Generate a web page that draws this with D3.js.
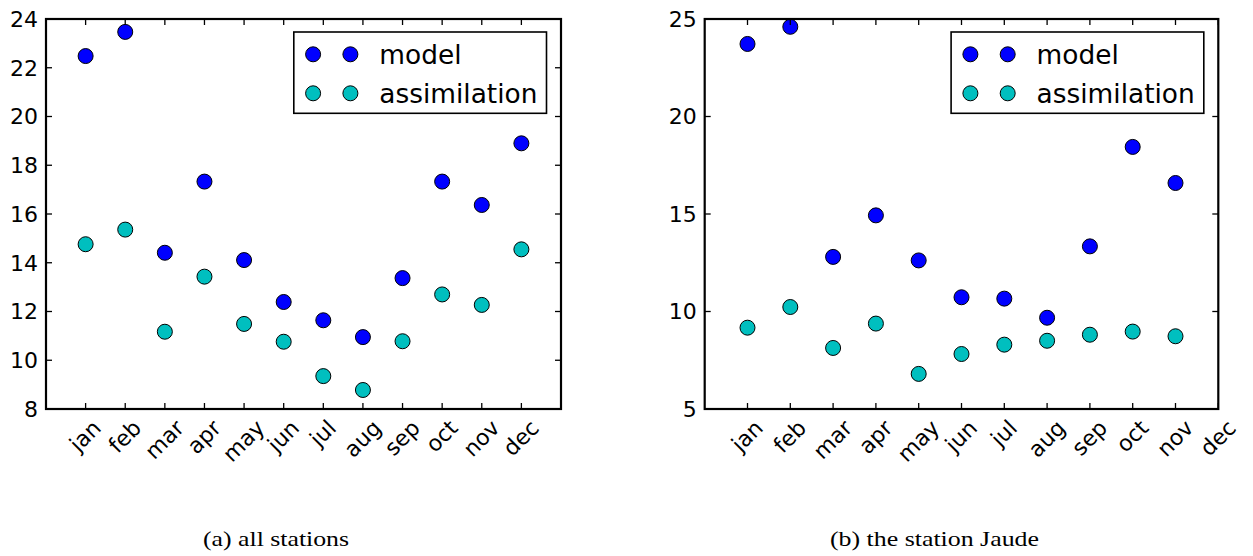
<!DOCTYPE html>
<html>
<head>
<meta charset="utf-8">
<script src="https://cdn.jsdelivr.net/npm/d3@7"></script>
<style>
  body { margin: 0; background: #fff; }
  svg { display: block; }
</style>
</head>
<body>
<div class="canvas"></div>
<script>
// month labels on the x axis
const months = ['jan', 'feb', 'mar', 'apr', 'may', 'jun', 'jul', 'aug', 'sep', 'oct', 'nov', 'dec'];

// (a) all stations
const allModel = [22.48, 23.47, 14.41, 17.33, 14.11, 12.39, 11.64, 10.95, 13.37, 17.33, 16.37, 18.9];
const allAssim = [14.76, 15.36, 11.17, 13.43, 11.49, 10.76, 9.35, 8.78, 10.78, 12.7, 12.27, 14.55];
const allTicks = [8, 10, 12, 14, 16, 18, 20, 22, 24];

// (b) the station Jaude (no december value)
const jaudeModel = [23.72, 24.6, 12.8, 14.93, 12.62, 10.73, 10.66, 9.68, 13.34, 18.44, 16.59];
const jaudeAssim = [9.17, 10.23, 8.13, 9.38, 6.8, 7.82, 8.3, 8.5, 8.81, 8.97, 8.73];
const jaudeTicks = [5, 10, 15, 20, 25];

const seriesNames = ['model', 'assimilation'];
const captions = ['(a) all stations', '(b) the station Jaude'];

const W = 1253, H = 556;
const TICK_FONT = 22;
const LEGEND_FONT = 26.4;
const MARKER_R = 7.5;
const colors = ['#0000ff', '#00bfbf'];

const svg = d3.select('.canvas')
    .append('svg')
    .attr('width', W)
    .attr('height', H);

svg.append('rect').attr('width', W).attr('height', H).attr('fill', '#fff');

const panels = [
    { left: 46, right: 561, top: 19, bottom: 409, xMax: 13, yDomain: [8, 24],
      ticks: allTicks, series: [allModel, allAssim], caption: captions[0], capX: 276, capW: 146 },
    { left: 704.7, right: 1218.3, top: 19, bottom: 409, xMax: 12, yDomain: [5, 25],
      ticks: jaudeTicks, series: [jaudeModel, jaudeAssim], caption: captions[1], capX: 934.5, capW: 209 }
];

const drawPanel = p => {
    const w = p.right - p.left;
    const h = p.bottom - p.top;

    const x = d3.scaleLinear().domain([0, p.xMax]).range([0, w]);
    const y = d3.scaleLinear().domain(p.yDomain).range([h, 0]);

    const g = svg.append('g')
        .attr('transform', `translate(${p.left}, ${p.top})`);

    // data points
    p.series.forEach((vals, si) => {
        g.selectAll(`circle.s${si}`)
            .data(vals)
            .enter()
            .append('circle')
            .attr('class', `s${si}`)
            .attr('cx', (d, i) => x(i + 1))
            .attr('cy', d => y(d))
            .attr('r', MARKER_R)
            .attr('fill', colors[si])
            .attr('stroke', '#000')
            .attr('stroke-width', 1);
    });

    const xTickVals = months.map((m, i) => i + 1);
    const tickLen = 6;

    // inward ticks on all four sides
    const tickG = g.append('g').attr('stroke', '#000').attr('stroke-width', 1.3);
    tickG.selectAll('line.xb').data(xTickVals).enter().append('line')
        .attr('x1', d => x(d)).attr('x2', d => x(d))
        .attr('y1', h).attr('y2', h - tickLen);
    tickG.selectAll('line.xt').data(xTickVals).enter().append('line')
        .attr('x1', d => x(d)).attr('x2', d => x(d))
        .attr('y1', 0).attr('y2', tickLen);
    tickG.selectAll('line.yl').data(p.ticks).enter().append('line')
        .attr('x1', 0).attr('x2', tickLen)
        .attr('y1', d => y(d)).attr('y2', d => y(d));
    tickG.selectAll('line.yr').data(p.ticks).enter().append('line')
        .attr('x1', w).attr('x2', w - tickLen)
        .attr('y1', d => y(d)).attr('y2', d => y(d));

    // frame
    g.append('rect')
        .attr('width', w).attr('height', h)
        .attr('fill', 'none')
        .attr('stroke', '#000')
        .attr('stroke-width', 2.2);

    // y tick labels
    g.selectAll('text.ytl')
        .data(p.ticks)
        .enter()
        .append('text')
        .attr('class', 'ytl')
        .attr('x', -8)
        .attr('y', d => y(d))
        .attr('dy', '0.36em')
        .attr('text-anchor', 'end')
        .attr('font-family', 'DejaVu Sans')
        .attr('font-size', TICK_FONT)
        .text(d => d);

    // x tick labels rotated 45 degrees, box centred under the tick
    g.selectAll('text.xtl')
        .data(months)
        .enter()
        .append('text')
        .attr('class', 'xtl')
        .attr('text-anchor', 'middle')
        .attr('dy', '0.32em')
        .attr('font-family', 'DejaVu Sans')
        .attr('font-size', TICK_FONT)
        .text(d => d)
        .each(function(d, i) {
            const len = this.getComputedTextLength();
            const boxH = (len + TICK_FONT * 0.95) * Math.SQRT1_2;
            d3.select(this).attr('transform',
                `translate(${x(i + 1)}, ${h + 8 + boxH / 2}) rotate(-45)`);
        });

    // legend
    const lw = 252.7, lh = 81.3;
    const legend = g.append('g')
        .attr('transform', `translate(${w - 14.5 - lw}, 13)`);
    legend.append('rect')
        .attr('width', lw).attr('height', lh)
        .attr('fill', '#fff')
        .attr('stroke', '#000')
        .attr('stroke-width', 1.6);
    seriesNames.forEach((name, si) => {
        const ry = 22.3 + si * 39;
        [19.3, 56.6].forEach(mx => {
            legend.append('circle')
                .attr('cx', mx).attr('cy', ry)
                .attr('r', MARKER_R)
                .attr('fill', colors[si])
                .attr('stroke', '#000')
                .attr('stroke-width', 1);
        });
        legend.append('text')
            .attr('x', 85.5)
            .attr('y', ry)
            .attr('dy', '0.36em')
            .attr('font-family', 'DejaVu Sans')
            .attr('font-size', LEGEND_FONT)
            .text(name);
    });

    // caption (computer-modern look: wider than Times, so stretch a bit)
    svg.append('text')
        .attr('x', p.capX)
        .attr('y', 546)
        .attr('text-anchor', 'middle')
        .attr('font-family', 'Liberation Serif')
        .attr('font-size', 21)
        .attr('textLength', p.capW)
        .attr('lengthAdjust', 'spacingAndGlyphs')
        .text(p.caption);
};

panels.forEach(drawPanel);
</script>
</body>
</html>
